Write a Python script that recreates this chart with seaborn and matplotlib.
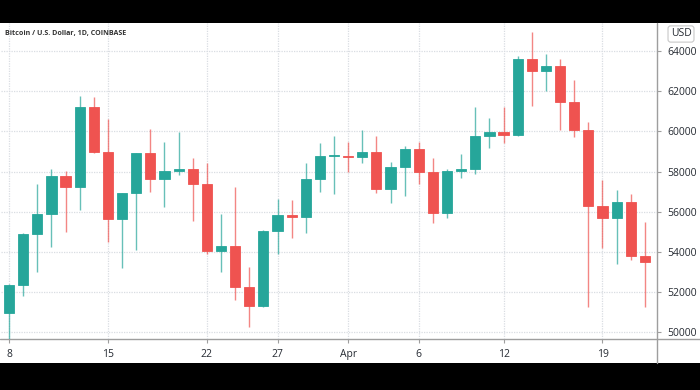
import numpy as np
import pandas as pd
import matplotlib
matplotlib.use("Agg")
import matplotlib.pyplot as plt
import matplotlib.dates as mdates
from matplotlib.lines import Line2D
from matplotlib.patches import Rectangle
import seaborn as sns

# Datos diarios BTC/USD (Coinbase), 8 mar - 22 abr
dates = pd.date_range("2021-03-08", "2021-04-22", freq="D")
open_ = [50950, 52380, 54900, 55880, 57800, 57220, 61200, 58970, 55620, 56930,
         58920, 57630, 58030, 58120, 57370, 54030, 54320, 52250, 51300, 55050,
         55850, 55750, 57620, 58780, 58800, 58730, 58970, 57120, 58220, 59120,
         58000, 55950, 58050, 58120, 59780, 59980, 59830, 63620, 63000, 63250,
         61470, 60080, 56280, 55680, 56500, 53780]
high = [52400, 54950, 57380, 58130, 58050, 61780, 61700, 60620, 56950, 58950,
        60130, 59470, 59950, 58700, 58450, 55870, 57250, 53250, 55100, 56630,
        56580, 58420, 59420, 59800, 59470, 60070, 59770, 58480, 59280, 59480,
        58670, 58120, 58880, 61220, 60670, 61200, 63780, 64950, 63870, 63620,
        62580, 60450, 57580, 57080, 56880, 55480]
low = [49350, 51800, 53000, 54250, 55000, 56080, 58950, 54500, 53220, 54120,
       57000, 56250, 57830, 55530, 53900, 52980, 51620, 50280, 51250, 53920,
       54700, 54920, 57000, 56880, 58000, 58420, 56920, 56450, 56800, 57370,
       55420, 55670, 57670, 57870, 59170, 59420, 59800, 61280, 62030, 60080,
       59720, 51280, 54200, 53420, 53620, 51280]
close = [52380, 54900, 55880, 57800, 57220, 61200, 58970, 55620, 56930, 58920,
         57630, 58030, 58120, 57370, 54030, 54320, 52250, 51300, 55050, 55850,
         55750, 57620, 58780, 58800, 58730, 58970, 57120, 58220, 59120, 58000,
         55950, 58050, 58120, 59780, 59980, 59830, 63620, 63000, 63250, 61470,
         60080, 56280, 55680, 56500, 53780, 53480]

tick_dates = pd.to_datetime(["2021-03-08", "2021-03-15", "2021-03-22", "2021-03-27",
                             "2021-04-01", "2021-04-06", "2021-04-12", "2021-04-19"])
tick_labels = ["8", "15", "22", "27", "Apr", "6", "12", "19"]
price_ticks = list(range(50000, 64001, 2000))

df = pd.DataFrame({"date": dates, "open": open_, "high": high, "low": low, "close": close})
df["x"] = mdates.date2num(df["date"])
df["up"] = df["close"] >= df["open"]

# Estilo
sns.set_theme(style="white")
plt.rcParams["font.family"] = ["Open Sans", "DejaVu Sans"]

up_color = "#26a69a"
down_color = "#ef5350"
grid_color = "#d9dde2"
line_color = "#9e9e9e"
text_color = "#262b33"

W, H = 700, 390
fig = plt.figure(figsize=(7, 3.9), dpi=100, facecolor="black")

# panel blanco (barras negras arriba y abajo)
fig.patches.append(Rectangle((0, (H - 363) / H), 1, 340 / H, transform=fig.transFigure,
                             facecolor="white", edgecolor="none", zorder=-5))

ax = fig.add_axes([1 / W, (H - 339) / H, 656.3 / W, 316 / H])
ax.set_facecolor("none")
ax.set_zorder(2)

# velas
colors = np.where(df["up"], up_color, down_color)
ax.vlines(df["x"], df["low"], df["high"], colors=colors, linewidth=1, alpha=0.7, zorder=2)
body_low = np.minimum(df["open"], df["close"])
body_h = np.maximum(np.abs(df["close"] - df["open"]), 70)
ax.bar(df["x"], body_h, bottom=body_low, width=0.72, color=colors,
       edgecolor=colors, linewidth=0.6, zorder=3)

x0 = mdates.date2num(dates[0])
x1 = mdates.date2num(dates[-1])
ax.set_xlim(x0 - 0.57, x1 + 0.88)
ax.set_ylim(49666, 65403)

ax.set_xticks(mdates.date2num(tick_dates))
ax.set_xticklabels(tick_labels)
ax.set_yticks(price_ticks)
ax.set_yticklabels([str(p) for p in price_ticks])
ax.yaxis.tick_right()

ax.grid(True, color=grid_color, linestyle=(0, (1, 1)), linewidth=0.9, zorder=0)
ax.set_axisbelow(True)
for s in ax.spines.values():
    s.set_visible(False)
ax.tick_params(axis="x", length=3, width=0.8, color=line_color, pad=4,
               labelsize=7.5, labelcolor=text_color, bottom=True)
ax.tick_params(axis="y", length=3, width=0.8, color=line_color, pad=4,
               labelsize=7.5, labelcolor=text_color, right=True, left=False)

# separadores de escala
fig.add_artist(Line2D([657.3 / W, 657.3 / W], [(H - 363) / H, (H - 23) / H],
                      transform=fig.transFigure, color=line_color, linewidth=1))
fig.add_artist(Line2D([0, 1], [(H - 339) / H, (H - 339) / H],
                      transform=fig.transFigure, color=line_color, linewidth=1))

# textos
fig.text(5 / W, (H - 33) / H, "Bitcoin / U.S. Dollar, 1D, COINBASE", fontsize=5.1,
         color="#333333", weight="bold", ha="left", va="center")
fig.text(681 / W, (H - 34) / H, "USD", fontsize=7.5, color=text_color, ha="center", va="center",
         bbox=dict(boxstyle="round,pad=0.25", facecolor="white", edgecolor="#c8c8c8", linewidth=0.8))

fig.savefig("out.png", dpi=100, facecolor="black")
plt.close(fig)
